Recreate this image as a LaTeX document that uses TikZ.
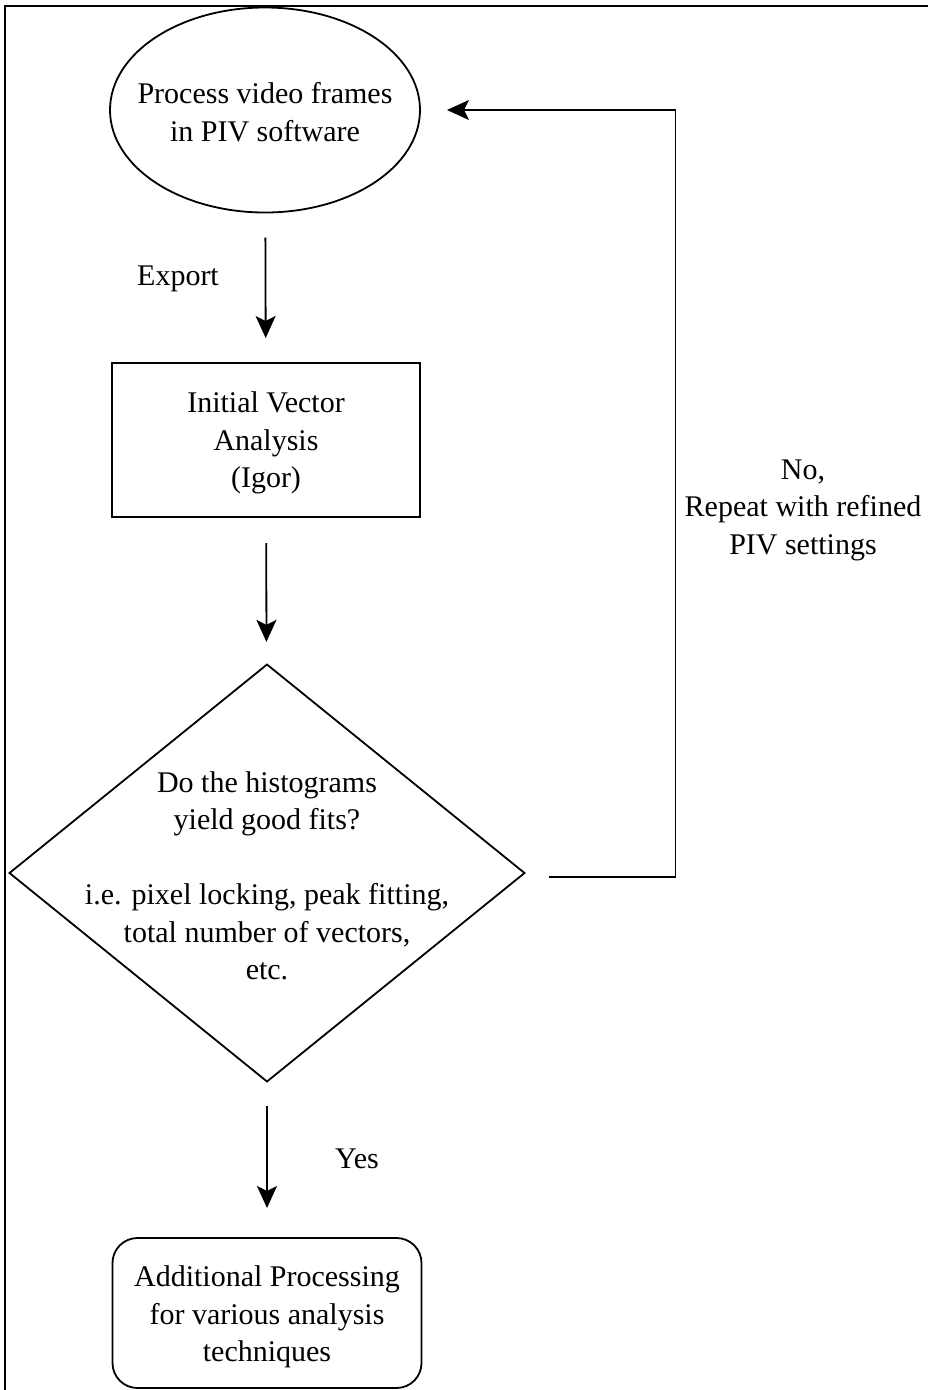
\documentclass[tikz,border=0pt]{standalone}
\usepackage{fontspec}
\setmainfont{Liberation Serif}
\usetikzlibrary{shapes,arrows.meta}
\tikzstyle{nd}=[draw=black,line width=1.8pt,inner sep=0pt,outer sep=0pt]
\tikzstyle{txt}=[align=center,font=\fontsize{30}{37.5}\selectfont]
\tikzstyle{arr}=[-{Stealth[length=22pt,width=20pt,inset=5pt]},line width=1.8pt]

\begin{document}
\begin{tikzpicture}[x=1pt,y=-1pt]
\useasboundingbox (0,0) rectangle (928,1390);
\draw[line width=1.8pt] (5,1390) -- (5,6) -- (928,6);
% shapes
\node[nd,ellipse,minimum width=310,minimum height=205] (proc) at (265,110) {};
\node[txt] (proctxt) at (265,112) {Process video frames\\in PIV software};
\node[nd,rectangle,minimum width=308,minimum height=154] (vec) at (266,440) {};
\node[txt] (vectxt) at (266,443) {Initial Vector\\Analysis\\(Igor)};
\node[nd,diamond,minimum width=515,minimum height=417] (dia) at (267,873) {};
\node[txt] (diatxt) at (267,876) {Do the histograms\\yield good fits?\\[37.5pt]i.e. pixel locking, peak fitting,\\total number of vectors,\\etc.};
\node[nd,rectangle,rounded corners=25pt,minimum width=309,minimum height=150] (more) at (267,1313) {};
\node[txt] (moretxt) at (267,1317) {Additional Processing\\for various analysis\\techniques};
% labels
\node[txt] (export) at (178,279) {Export};
\node[txt] (yes) at (357,1159) {Yes};
\node[txt] (no) at (803,510) {No,\\Repeat with refined\\PIV settings};
% arrows
\draw[arr,shorten <=25pt,shorten >=25pt] (proc) -- (vec);
\draw[arr,shorten <=26pt,shorten >=23pt] (vec) -- (dia);
\draw[arr,shorten <=24pt,shorten >=30pt] (dia) -- (more);
\draw[arr,shorten <=24pt,shorten >=27pt] ([yshift=-4pt]dia.east) -- ++(151,0) |- (proc.east);
\end{tikzpicture}
\end{document}
